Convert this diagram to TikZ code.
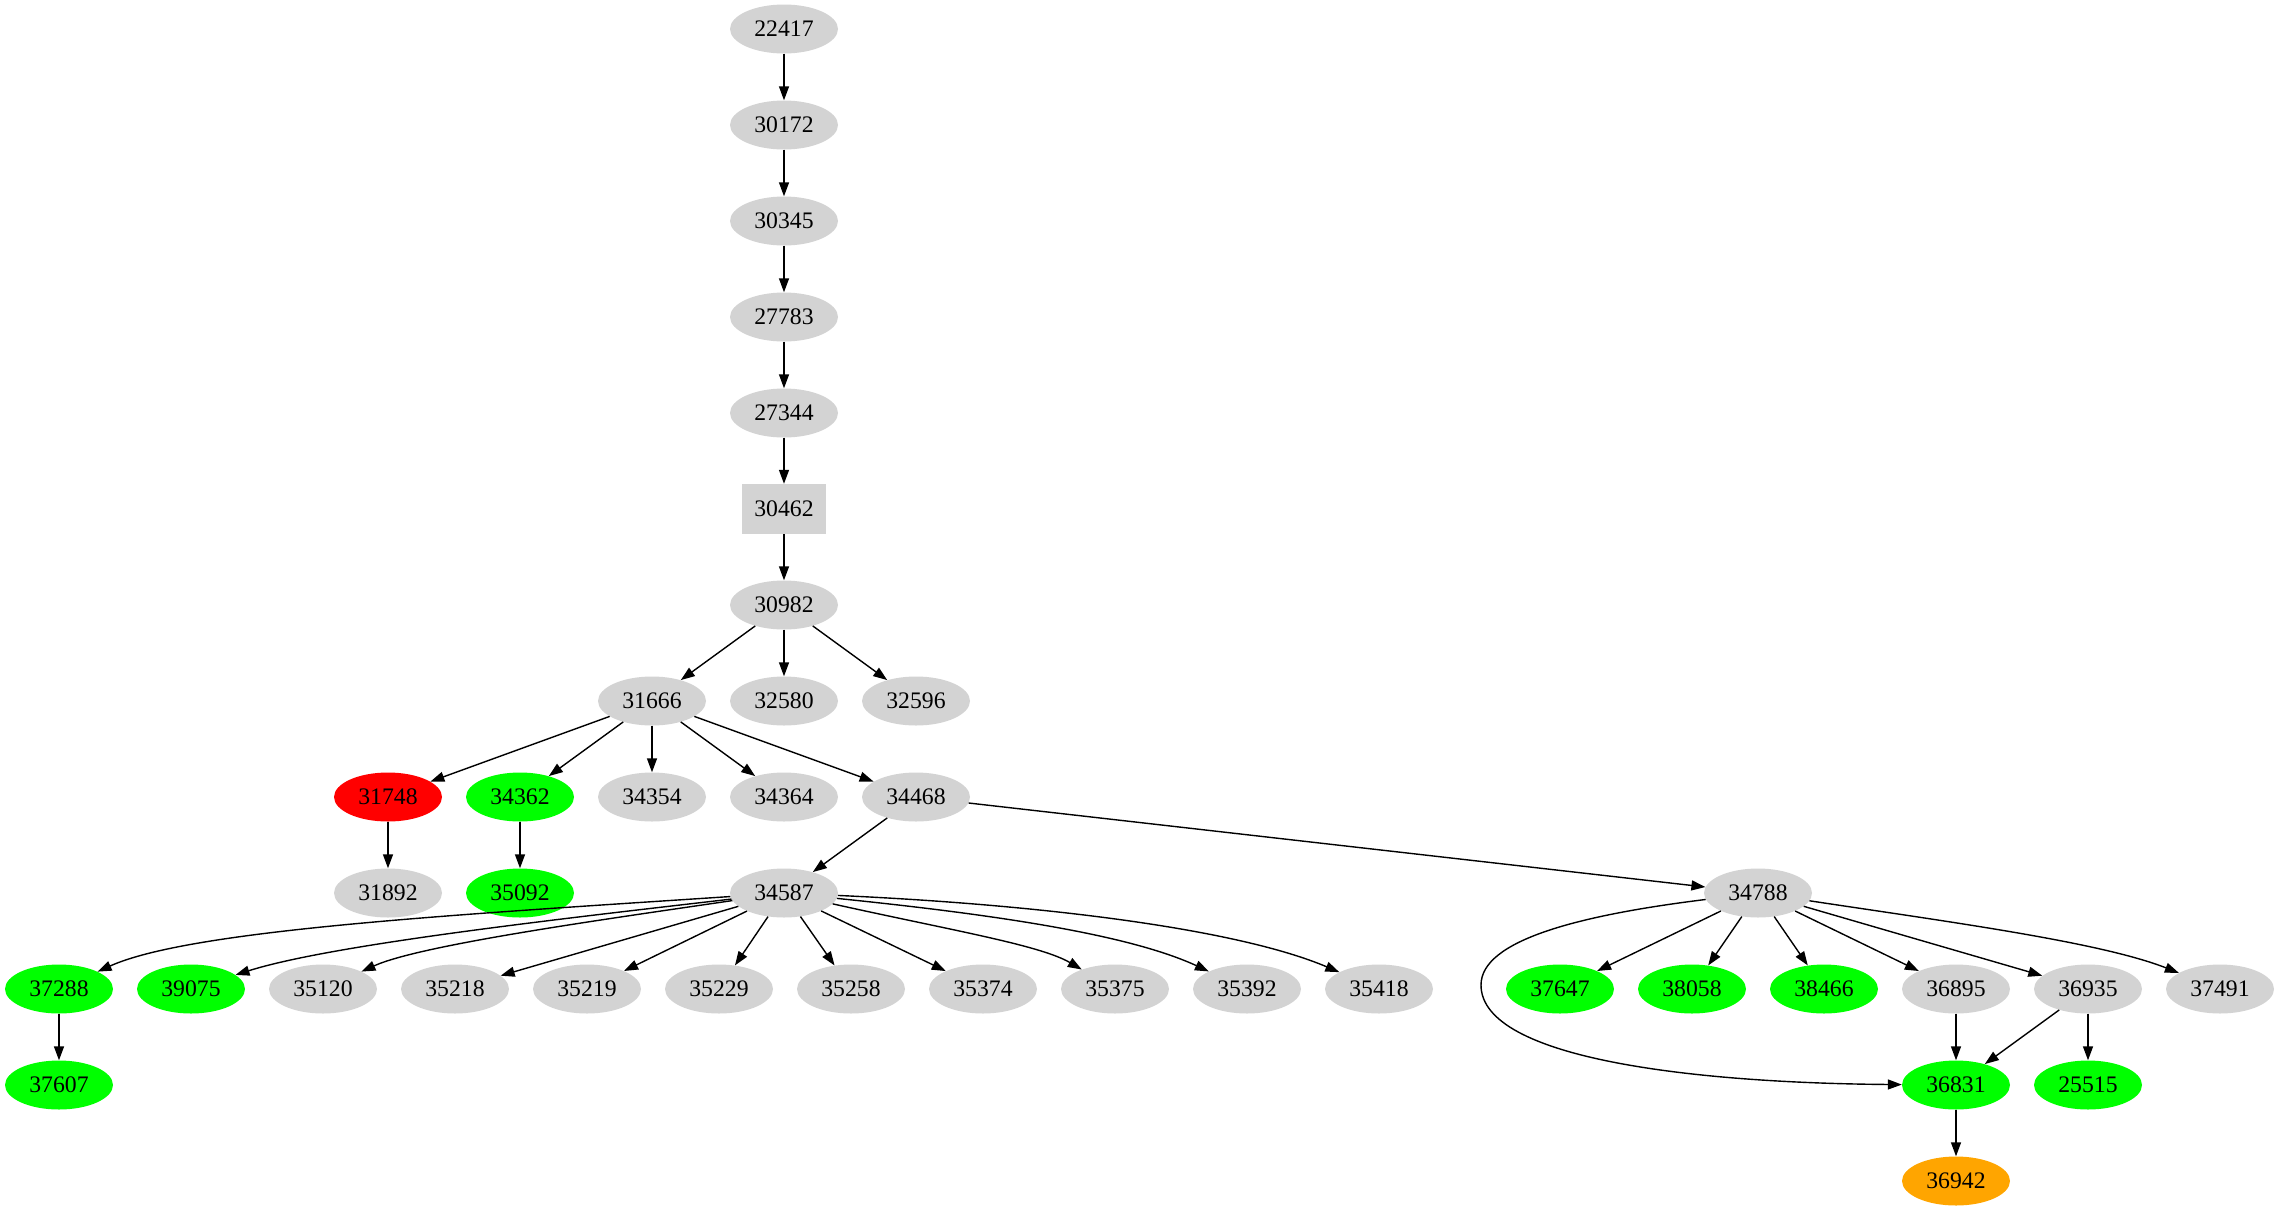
\documentclass[tikz,border=0pt]{standalone}
\usepackage{fontspec}
\setmainfont{Liberation Serif}
\usetikzlibrary{shapes.geometric,arrows.meta}
\definecolor{lgray}{HTML}{D3D3D3}
\definecolor{gvgreen}{HTML}{00FF00}
\definecolor{gvred}{HTML}{FF0000}
\definecolor{gvorange}{HTML}{FFA500}
\begin{document}
\begin{tikzpicture}[x=1pt,y=-1pt,
  nd/.style={ellipse,fill=lgray,minimum width=108pt,minimum height=49pt,inner sep=0pt,font=\fontsize{23.7pt}{28pt}\selectfont},
  gn/.style={nd,fill=gvgreen},
  rd/.style={nd,fill=gvred},
  og/.style={nd,fill=gvorange},
  bx/.style={rectangle,fill=lgray,minimum width=84pt,minimum height=50pt,inner sep=0pt,font=\fontsize{23.7pt}{28pt}\selectfont},
  ed/.style={line width=1.4pt,-{Triangle[length=14pt,width=10pt]}}]
\useasboundingbox (0,0) rectangle (2279,1211);
% nodes
\node[nd] (n22417) at (784,29) {22417};
\node[nd] (n30172) at (784,125) {30172};
\node[nd] (n30345) at (784,221) {30345};
\node[nd] (n27783) at (784,317) {27783};
\node[nd] (n27344) at (784,413) {27344};
\node[bx] (n30462) at (784,509) {30462};
\node[nd] (n30982) at (784,605) {30982};
\node[nd] (n31666) at (652,701) {31666};
\node[nd] (n32580) at (784,701) {32580};
\node[nd] (n32596) at (916,701) {32596};
\node[rd] (n31748) at (388,797) {31748};
\node[gn] (n34362) at (520,797) {34362};
\node[nd] (n34354) at (652,797) {34354};
\node[nd] (n34364) at (784,797) {34364};
\node[nd] (n34468) at (916,797) {34468};
\node[nd] (n31892) at (388,893) {31892};
\node[gn] (n35092) at (520,893) {35092};
\node[nd] (n34587) at (784,893) {34587};
\node[nd] (n34788) at (1758,893) {34788};
\node[gn] (n37288) at (59,989) {37288};
\node[gn] (n39075) at (191,989) {39075};
\node[nd] (n35120) at (323,989) {35120};
\node[nd] (n35218) at (455,989) {35218};
\node[nd] (n35219) at (587,989) {35219};
\node[nd] (n35229) at (719,989) {35229};
\node[nd] (n35258) at (851,989) {35258};
\node[nd] (n35374) at (983,989) {35374};
\node[nd] (n35375) at (1115,989) {35375};
\node[nd] (n35392) at (1247,989) {35392};
\node[nd] (n35418) at (1379,989) {35418};
\node[gn] (n37647) at (1560,989) {37647};
\node[gn] (n38058) at (1692,989) {38058};
\node[gn] (n38466) at (1824,989) {38466};
\node[nd] (n36895) at (1956,989) {36895};
\node[nd] (n36935) at (2088,989) {36935};
\node[nd] (n37491) at (2220,989) {37491};
\node[gn] (n37607) at (59,1085) {37607};
\node[gn] (n36831) at (1956,1085) {36831};
\node[gn] (n25515) at (2088,1085) {25515};
\node[og] (n36942) at (1956,1181) {36942};
% edges
\draw[ed] (n22417) -- (n30172);
\draw[ed] (n30172) -- (n30345);
\draw[ed] (n30345) -- (n27783);
\draw[ed] (n27783) -- (n27344);
\draw[ed] (n27344) -- (n30462);
\draw[ed] (n30462) -- (n30982);
\draw[ed] (n30982) -- (n31666);
\draw[ed] (n30982) -- (n32580);
\draw[ed] (n30982) -- (n32596);
\draw[ed] (n31666) -- (n31748);
\draw[ed] (n31666) -- (n34362);
\draw[ed] (n31666) -- (n34354);
\draw[ed] (n31666) -- (n34364);
\draw[ed] (n31666) -- (n34468);
\draw[ed] (n31748) -- (n31892);
\draw[ed] (n34362) -- (n35092);
\draw[ed] (n34468) -- (n34587);
\draw[ed] (n34468) -- (n34788);
\draw[ed] (n34587) .. controls (450,915) and (190,930) .. (n37288);
\draw[ed] (n34587) .. controls (550,920) and (330,945) .. (n39075);
\draw[ed] (n34587) .. controls (600,920) and (420,945) .. (n35120);
\draw[ed] (n34587) -- (n35218);
\draw[ed] (n34587) -- (n35219);
\draw[ed] (n34587) -- (n35229);
\draw[ed] (n34587) -- (n35258);
\draw[ed] (n34587) -- (n35374);
\draw[ed] (n34587) .. controls (950,930) and (1040,945) .. (n35375);
\draw[ed] (n34587) .. controls (1000,915) and (1130,935) .. (n35392);
\draw[ed] (n34587) .. controls (1050,905) and (1240,930) .. (n35418);
\draw[ed] (n37288) -- (n37607);
\draw[ed] (n34788) .. controls (1580,915) and (1481,940) .. (1481,985) .. controls (1481,1060) and (1700,1083) .. (n36831);
\draw[ed] (n34788) -- (n37647);
\draw[ed] (n34788) -- (n38058);
\draw[ed] (n34788) -- (n38466);
\draw[ed] (n34788) -- (n36895);
\draw[ed] (n34788) -- (n36935);
\draw[ed] (n34788) .. controls (1950,922) and (2100,942) .. (n37491);
\draw[ed] (n36895) -- (n36831);
\draw[ed] (n36935) -- (n36831);
\draw[ed] (n36935) -- (n25515);
\draw[ed] (n36831) -- (n36942);
\end{tikzpicture}
\end{document}
